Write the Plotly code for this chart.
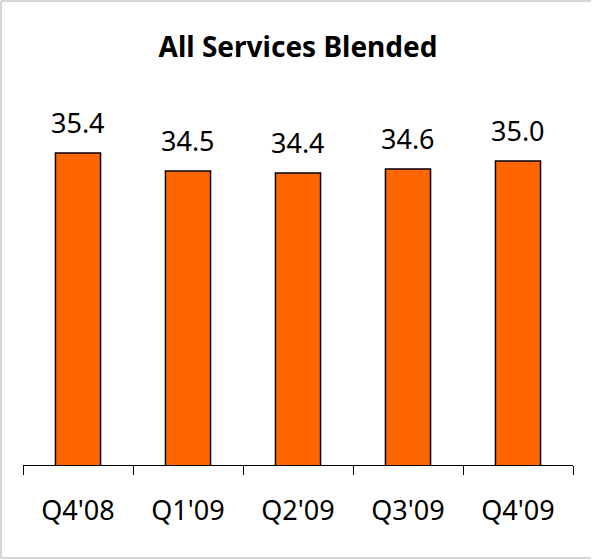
import plotly.graph_objects as go

categories = ["Q4'08", "Q1'09", "Q2'09", "Q3'09", "Q4'09"]
values = [35.4, 34.5, 34.4, 34.6, 35.0]
labels = ["35.4", "34.5", "34.4", "34.6", "35.0"]
title_text = "All Services Blended"

FONT = "Noto Sans"
W, H = 593, 560
L, R, T, B = 23, 20, 61, 95
pw, ph = W - L - R, H - T - B


def px_x(x):
    return (x - L) / pw


def px_y(y):
    return (H - B - y) / ph


fig = go.Figure()
fig.add_trace(go.Bar(
    x=categories, y=values, width=0.41,
    marker=dict(color="#FF6600", line=dict(color="black", width=1.5)),
    hoverinfo="skip",
))
for c, v, t in zip(categories, values, labels):
    fig.add_annotation(x=c, y=v, text=t, showarrow=False, yanchor="bottom",
                       yshift=10, font=dict(family=FONT, size=27, color="black"))

border = dict(color="#c8c8c8", width=1.5)
for (xa, ya, xb, yb) in [(1, 1, 591, 1), (1, 1, 1, 558), (1, 558, 591, 558)]:
    fig.add_shape(type="line", xref="paper", yref="paper",
                  x0=px_x(xa), y0=px_y(ya), x1=px_x(xb), y1=px_y(yb),
                  line=border, layer="below")

fig.update_layout(
    width=W, height=H,
    margin=dict(l=L, r=R, t=T, b=B, pad=0),
    paper_bgcolor="white", plot_bgcolor="white",
    showlegend=False,
    title=dict(text="<b>" + title_text + "</b>", x=0.5, xref="paper", xanchor="center",
               y=1 - 47 / H, yanchor="middle",
               font=dict(family=FONT, size=28, color="black")),
    xaxis=dict(type="category", tickson="boundaries", ticks="outside", ticklen=9,
               tickcolor="black", tickwidth=1, showline=True, linecolor="black",
               linewidth=1, showgrid=False, range=[-0.5, 4.5],
               tickfont=dict(family=FONT, size=27, color="black"),
               ticklabelstandoff=22),
    yaxis=dict(range=[19.8, 40.0], visible=False, showgrid=False, zeroline=False),
)

fig.write_html("out.html", config={"displayModeBar": False},
               post_script="document.body.style.margin='0';document.body.style.overflow='hidden';")
